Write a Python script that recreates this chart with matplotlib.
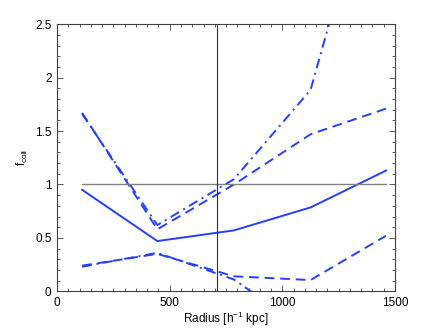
import numpy as np
import matplotlib
matplotlib.use("Agg")
import matplotlib.pyplot as plt
from matplotlib.ticker import MultipleLocator, FormatStrFormatter

plt.rcParams['font.family'] = ['Liberation Sans', 'DejaVu Sans']
plt.rcParams['mathtext.fontset'] = 'custom'
plt.rcParams['mathtext.rm'] = 'Liberation Sans'
plt.rcParams['mathtext.it'] = 'Liberation Sans'

# radius bins [h^-1 kpc]
radius = [111, 445, 785, 1125, 1460]

f_mid = [0.95, 0.47, 0.57, 0.785, 1.13]
f_hi_dash = [1.67, 0.58, 1.00, 1.47, 1.71]
f_hi_dotdash = [1.66, 0.62, 1.05, 1.885, 4.4]
f_lo_dash = [0.24, 0.35, 0.14, 0.105, 0.52]
f_lo_dotdash = [0.23, 0.36, 0.11, -0.39, -0.9]

ref_radius = 711
blue = "#2440ff"

fig = plt.figure(figsize=(4.36, 3.28), dpi=100)
ax = fig.add_axes([0.131, 0.112, 0.775, 0.814])

ax.plot(radius, f_mid, color=blue, lw=1.4)
ax.plot(radius, f_hi_dash, color=blue, lw=1.4, ls=(0, (5, 3)))
ax.plot(radius, f_lo_dash, color=blue, lw=1.4, ls=(0, (5, 3)))
ax.plot(radius, f_hi_dotdash, color=blue, lw=1.4, ls=(0, (5, 2.5, 1, 2.5)))
ax.plot(radius, f_lo_dotdash, color=blue, lw=1.4, ls=(0, (5, 2.5, 1, 2.5)))

ax.plot([radius[0], radius[-1]], [1, 1], color="#808080", lw=1.0)
ax.axvline(ref_radius, color="#303030", lw=0.8)

ax.set_xlim(0, 1500)
ax.set_ylim(0, 2.5)
ax.xaxis.set_major_locator(MultipleLocator(500))
ax.xaxis.set_minor_locator(MultipleLocator(50))
ax.yaxis.set_major_locator(MultipleLocator(0.5))
ax.yaxis.set_minor_locator(MultipleLocator(0.1))
ax.yaxis.set_major_formatter(FormatStrFormatter("%g"))
ax.tick_params(which="both", direction="in", top=True, right=True,
               labelsize=8.5, color="#404040", width=0.6)
ax.tick_params(which="major", length=4, pad=4)
ax.tick_params(which="minor", length=2)
for s in ax.spines.values():
    s.set_linewidth(0.8)
    s.set_color("#404040")

ax.set_xlabel("Radius [h$^{-1}$ kpc]", fontsize=8.5, labelpad=1)
ax.set_ylabel("f$_{\\rm coll}$", fontsize=8.5, labelpad=4)

fig.savefig("out.png", dpi=100)
